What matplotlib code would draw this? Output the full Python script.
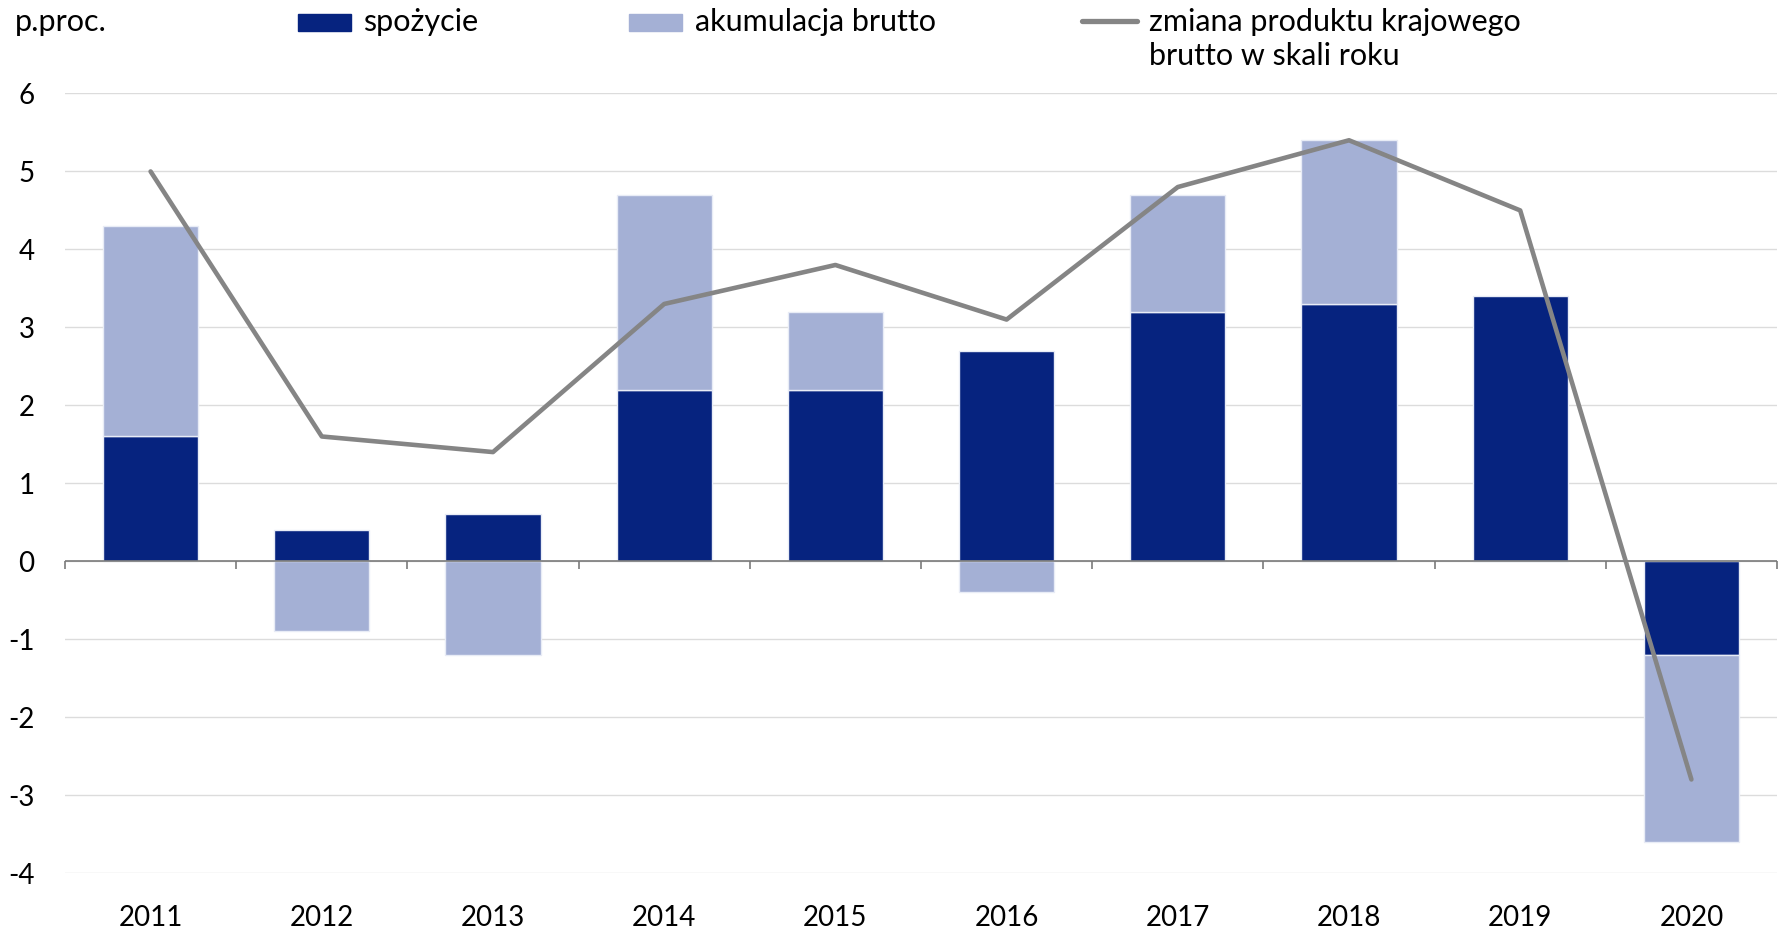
import matplotlib
matplotlib.use("Agg")
import matplotlib.pyplot as plt
from matplotlib.patches import Rectangle
from matplotlib.lines import Line2D
import numpy as np

years = ["2011", "2012", "2013", "2014", "2015", "2016", "2017", "2018", "2019", "2020"]
spozycie = [1.6, 0.4, 0.6, 2.2, 2.2, 2.7, 3.2, 3.3, 3.4, -1.2]
akumulacja = [2.7, -0.9, -1.2, 2.5, 1.0, -0.4, 1.5, 2.1, 0.0, -2.4]
pkb = [5.0, 1.6, 1.4, 3.3, 3.8, 3.1, 4.8, 5.4, 4.5, -2.8]
yticks = [-4, -3, -2, -1, 0, 1, 2, 3, 4, 5, 6]

dark = "#06237f"
light = "#a4b0d5"
grey = "#858585"

plt.rcParams["font.family"] = ["Lato", "DejaVu Sans"]

fig = plt.figure(figsize=(17.88, 9.30), dpi=100)
ax = fig.add_axes([65 / 1788, 1 - 873 / 930, (1777 - 65) / 1788, (873 - 93.5) / 930])

x = np.arange(len(years))
sp = np.array(spozycie)
ak = np.array(akumulacja)
# accumulation stacks on consumption only when both have the same sign
ak_bottom = np.where(np.sign(ak) == np.sign(sp), sp, 0.0)

ax.bar(x, sp, width=0.555, color=dark, edgecolor="#e8ecf6", linewidth=1, zorder=2)
ax.bar(x, ak, width=0.555, bottom=ak_bottom, color=light, edgecolor="#e8ecf6", linewidth=1, zorder=2)
ax.plot(x, pkb, color=grey, linewidth=3.3, solid_capstyle="round", zorder=4)

ax.set_xlim(-0.5, len(years) - 0.5)
ax.set_ylim(-4, 6)
ax.set_yticks(yticks)
ax.set_yticklabels([str(t) for t in yticks])
ax.set_xticks(x)
ax.set_xticklabels(years)
ax.tick_params(axis="both", length=0, labelsize=20)
ax.tick_params(axis="y", pad=22)
ax.tick_params(axis="x", pad=23)

ax.grid(axis="y", color="#dcdcdc", linewidth=1, zorder=0)
for s in ax.spines.values():
    s.set_visible(False)
ax.axhline(0, color="#7a7a7a", linewidth=1.2, zorder=3)
ax.vlines(np.arange(len(years) + 1) - 0.5, -0.1, 0, color="#7a7a7a", linewidth=1.2, zorder=3,
          clip_on=False)

# legend / header
W, H = 1788, 930
fs = 22
fig.text(15 / W, 1 - 22 / H, "p.proc.", fontsize=fs, va="center", ha="left")
fig.add_artist(Rectangle((298 / W, 1 - 31 / H), 53 / W, 17 / H, transform=fig.transFigure,
                         color=dark))
fig.text(363 / W, 1 - 22 / H, "spożycie", fontsize=fs, va="center", ha="left")
fig.add_artist(Rectangle((629 / W, 1 - 31 / H), 53 / W, 17 / H, transform=fig.transFigure,
                         color=light))
fig.text(695 / W, 1 - 22 / H, "akumulacja brutto", fontsize=fs, va="center", ha="left")
fig.add_artist(Line2D([1082 / W, 1137 / W], [1 - 21 / H, 1 - 21 / H], transform=fig.transFigure,
                      color=grey, linewidth=3.8, solid_capstyle="round"))
fig.text(1149 / W, 1 - 22 / H, "zmiana produktu krajowego", fontsize=fs, va="center", ha="left")
fig.text(1149 / W, 1 - 56 / H, "brutto w skali roku", fontsize=fs, va="center", ha="left")

fig.savefig("out.png", dpi=100)
